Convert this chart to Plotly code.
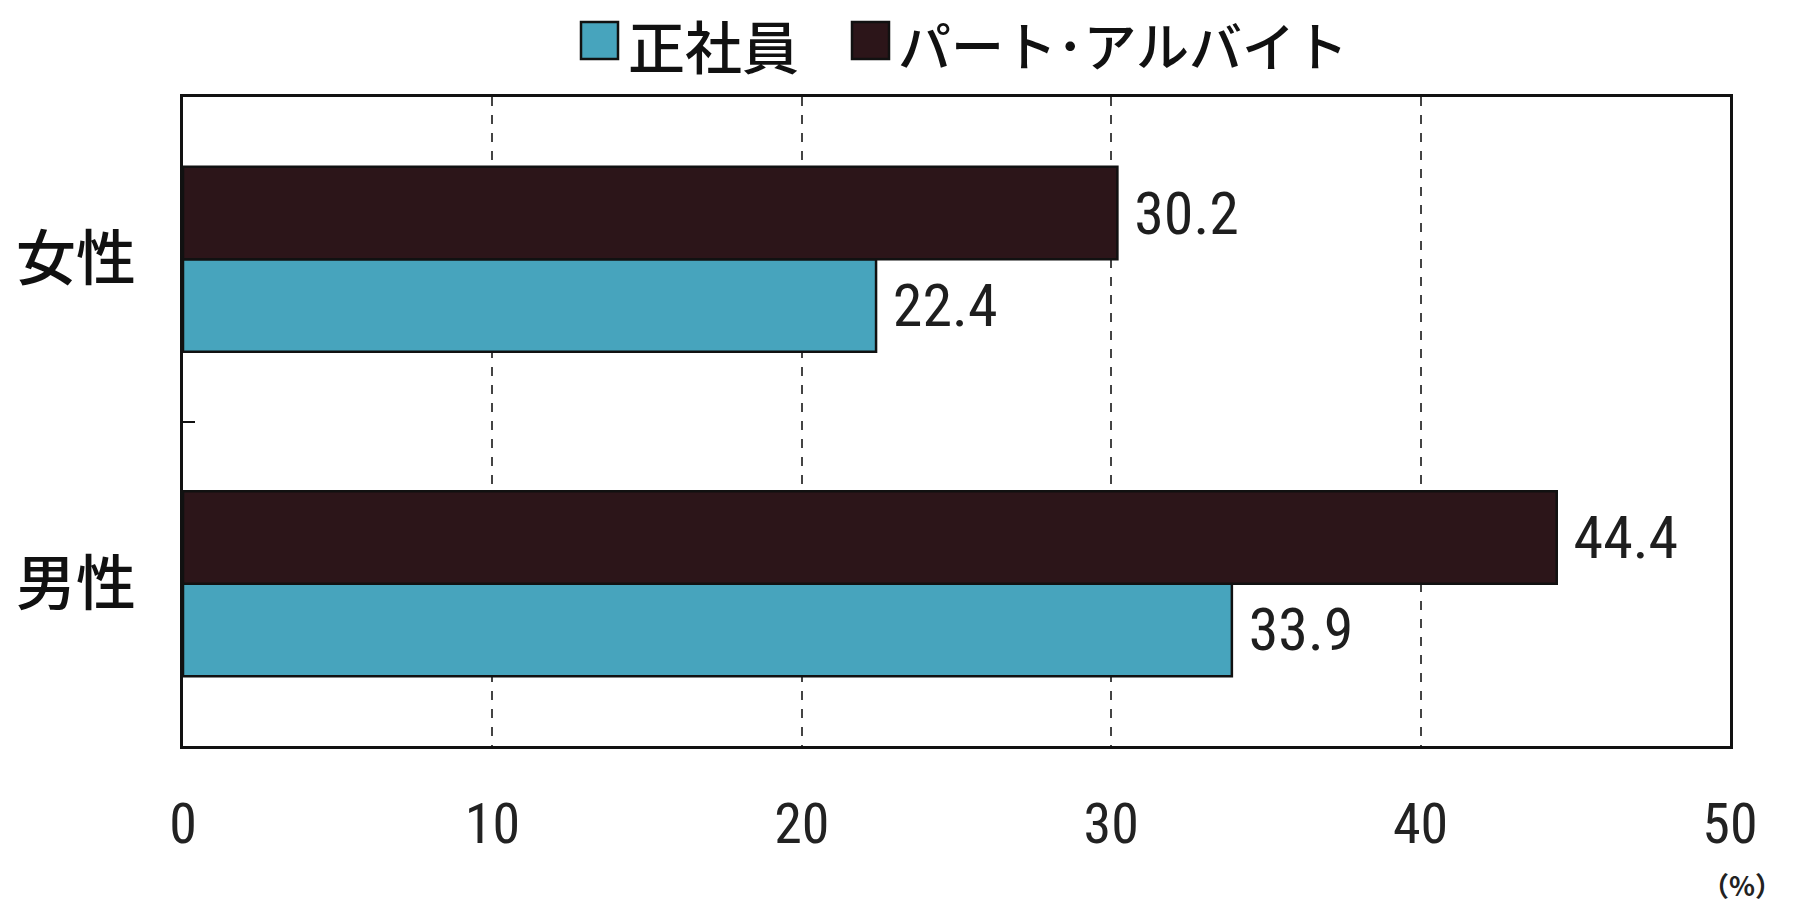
import plotly.graph_objects as go

categories = ["女性", "男性"]
series_names = ["正社員", "パート･アルバイト"]
seishain = [22.4, 33.9]
part_arbeit = [30.2, 44.4]
x_ticks = [0, 10, 20, 30, 40, 50]
colors = ["#47a4bd", "#2c1519"]

NARROW = "Liberation Sans Narrow, Arial Narrow, Roboto Condensed, Liberation Sans, sans-serif"
CJK = "Noto Sans CJK JP, Noto Sans CJK SC, sans-serif"

fig = go.Figure()
for name, vals, col in zip(series_names, [seishain, part_arbeit], colors):
    fig.add_trace(go.Bar(
        y=categories, x=vals, name=name, orientation="h",
        marker=dict(color=col, line=dict(color="#111111", width=2.5)),
        text=[f" {v:.1f}" for v in vals], textposition="outside",
        textfont=dict(family=NARROW, size=60, color="#1e1e1e"),
        cliponaxis=False, showlegend=False,
    ))

fig.update_layout(
    width=1794, height=907,
    margin=dict(l=183, r=64, t=97, b=161),
    paper_bgcolor="white", plot_bgcolor="white",
    barmode="group", bargap=0.43, bargroupgap=0,
)
fig.update_xaxes(
    range=[0, 50], tickvals=x_ticks, ticktext=[str(t) for t in x_ticks],
    tickfont=dict(family=NARROW, size=56, color="#222222"),
    showgrid=True, gridcolor="#444444", griddash="dash", gridwidth=1.5,
    showline=True, linecolor="#111111", linewidth=3, mirror=True,
    zeroline=False, ticks="", ticklabelstandoff=27, automargin=False,
)
fig.update_yaxes(
    categoryorder="array", categoryarray=["男性", "女性"],
    tickfont=dict(family=CJK, size=60, color="#111111", weight=500),
    showline=True, linecolor="#111111", linewidth=3, mirror=True,
    ticks="inside", tickson="boundaries", ticklen=12, tickwidth=2, tickcolor="#111111",
    ticklabelstandoff=32, showgrid=False, automargin=False,
)

# legend drawn manually
sq_x = [581, 852]
tx_x = [626, 896]
leg_sizes = [57, 53]
for i in range(2):
    fig.add_shape(type="rect", xref="paper", yref="paper",
                  x0=(sq_x[i] - 183) / 1547, x1=(sq_x[i] + 37 - 183) / 1547,
                  y0=(907 - 161 - 59) / 649, y1=(907 - 161 - 22) / 649,
                  fillcolor=colors[i], line=dict(color="#111111", width=2.5))
    fig.add_annotation(xref="paper", yref="paper", x=(tx_x[i] - 183) / 1547,
                       y=(907 - 161 - 44) / 649, xanchor="left", yanchor="middle",
                       text=series_names[i], showarrow=False,
                       font=dict(family=CJK, size=leg_sizes[i], color="#111111", weight=500))

fig.add_annotation(xref="paper", yref="paper", x=1.035, y=-0.213,
                   xanchor="right", yanchor="middle", text="（%）", showarrow=False,
                   font=dict(family=CJK, size=27, color="#222222", weight="bold"))

fig.write_html("out.html", post_script="document.body.style.margin='0';",
               config={"displayModeBar": False})
